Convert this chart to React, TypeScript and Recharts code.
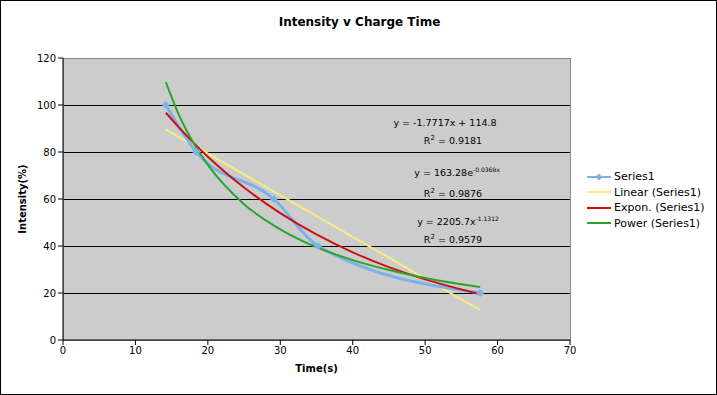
import React from "react";
import {
  ComposedChart,
  Line,
  XAxis,
  YAxis,
  CartesianGrid,
  ReferenceArea,
  Label,
} from "recharts";

// measured points
const times = [14.2, 18.4, 29.1, 35.2, 57.6];
const intensity = [100, 80, 60, 40, 20];

// trendlines, values
const linearX = [14.2, 57.6];
const linearY = [89.6, 12.7];
const curveX = [14.2, 16, 18, 20, 25, 30, 35, 40, 45, 50, 57.6];
const exponY = [96.7, 90.5, 84.0, 78.0, 64.9, 54.0, 44.9, 37.3, 31.0, 25.8, 19.5];
const powerY = [109.7, 95.8, 83.9, 74.5, 57.8, 47.1, 39.5, 34.0, 29.8, 26.4, 22.5];

const xTicks = [0, 10, 20, 30, 40, 50, 60, 70];
const yTicks = [0, 20, 40, 60, 80, 100, 120];

const zip = (xs: number[], ys: number[]) => xs.map((x, i) => ({ x, y: ys[i] }));

const series1 = zip(times, intensity);
const linear = zip(linearX, linearY);
const expon = zip(curveX, exponY);
const power = zip(curveX, powerY);

const BLUE = "#7cb2ea";
const YELLOW = "#f4ee82";
const RED = "#cc1111";
const GREEN = "#2aa52a";
const FONT = "'DejaVu Sans', Verdana, sans-serif";

function Diamond(props: any) {
  const { cx, cy } = props;
  if (cx == null || cy == null) return null;
  const r = 4;
  return (
    <polygon
      points={`${cx},${cy - r} ${cx + r},${cy} ${cx},${cy + r} ${cx - r},${cy}`}
      fill={BLUE}
    />
  );
}

const legendItems = [
  { name: "Series1", color: BLUE, marker: true },
  { name: "Linear (Series1)", color: YELLOW },
  { name: "Expon. (Series1)", color: RED },
  { name: "Power (Series1)", color: GREEN },
];

function LegendBox() {
  return (
    <div
      style={{
        position: "absolute",
        left: 586,
        top: 168,
        fontFamily: FONT,
        fontSize: 11,
        color: "#000",
      }}
    >
      {legendItems.map((it) => (
        <div key={it.name} style={{ display: "flex", alignItems: "center", height: 15.5 }}>
          <svg width={25} height={10}>
            <line x1={0} y1={5} x2={24} y2={5} stroke={it.color} strokeWidth={2} />
            {it.marker && <polygon points="12,1.5 15.5,5 12,8.5 8.5,5" fill={it.color} />}
          </svg>
          <span style={{ marginLeft: 2 }}>{it.name}</span>
        </div>
      ))}
    </div>
  );
}

const eqStyle: React.CSSProperties = {
  position: "absolute",
  width: 200,
  textAlign: "center",
  fontFamily: FONT,
  fontSize: 9.5,
  lineHeight: "12px",
  color: "#000",
};

export default function App() {
  return (
    <div
      style={{
        position: "absolute",
        left: 0,
        top: 0,
        width: 715,
        height: 393,
        border: "1px solid #000",
        background: "#fff",
      }}
    >
      <div
        style={{
          position: "absolute",
          top: 14,
          left: 0,
          width: 717,
          textAlign: "center",
          fontFamily: FONT,
          fontWeight: "bold",
          fontSize: 12,
        }}
      >
        Intensity v Charge Time
      </div>
      <ComposedChart
        width={715}
        height={393}
        margin={{ top: 57, right: 146, bottom: 22, left: 22 }}
      >
        <CartesianGrid
          fill="#cccccc"
          stroke="#000"
          vertical={false}
          horizontalValues={[20, 40, 60, 80, 100]}
          shapeRendering="crispEdges"
        />
        <ReferenceArea
          x1={0}
          x2={70}
          y1={0}
          y2={120}
          fill="none"
          stroke="#888"
          strokeWidth={1}
          ifOverflow="visible"
          shapeRendering="crispEdges"
        />
        <XAxis
          type="number"
          dataKey="x"
          domain={[0, 70]}
          ticks={xTicks}
          allowDataOverflow
          height={32}
          stroke="#000"
          tickSize={5}
          tick={{ fontFamily: FONT, fontSize: 10, fill: "#000" }}
        >
          <Label
            value="Time(s)"
            position="insideBottom"
            offset={0}
            style={{ fontFamily: FONT, fontSize: 10, fontWeight: "bold", fill: "#000" }}
          />
        </XAxis>
        <YAxis
          type="number"
          domain={[0, 120]}
          ticks={yTicks}
          width={40}
          stroke="#000"
          tickSize={5}
          tick={{ fontFamily: FONT, fontSize: 10, fill: "#000" }}
        >
          <Label
            value="Intensity(%)"
            angle={-90}
            position="insideLeft"
            offset={-1}
            style={{
              fontFamily: FONT,
              fontSize: 10,
              fontWeight: "bold",
              fill: "#000",
              textAnchor: "middle",
            }}
          />
        </YAxis>
        <Line
          data={linear}
          dataKey="y"
          type="linear"
          stroke={YELLOW}
          strokeWidth={2}
          dot={false}
          isAnimationActive={false}
        />
        <Line
          data={series1}
          dataKey="y"
          type="monotone"
          stroke={BLUE}
          strokeWidth={3}
          dot={<Diamond />}
          isAnimationActive={false}
        />
        <Line
          data={expon}
          dataKey="y"
          type="monotone"
          stroke={RED}
          strokeWidth={2}
          dot={false}
          isAnimationActive={false}
        />
        <Line
          data={power}
          dataKey="y"
          type="monotone"
          stroke={GREEN}
          strokeWidth={2}
          dot={false}
          isAnimationActive={false}
        />
      </ComposedChart>
      <LegendBox />
      <div style={{ ...eqStyle, left: 344, top: 116 }}>y = -1.7717x + 114.8</div>
      <div style={{ ...eqStyle, left: 352, top: 131 }}>
        R<sup style={{ fontSize: 7 }}>2</sup> = 0.9181
      </div>
      <div style={{ ...eqStyle, left: 356, top: 163 }}>
        y = 163.28e<sup style={{ fontSize: 6 }}>-0.0369x</sup>
      </div>
      <div style={{ ...eqStyle, left: 352, top: 184 }}>
        R<sup style={{ fontSize: 7 }}>2</sup> = 0.9876
      </div>
      <div style={{ ...eqStyle, left: 357, top: 212 }}>
        y = 2205.7x<sup style={{ fontSize: 6 }}>-1.1312</sup>
      </div>
      <div style={{ ...eqStyle, left: 352, top: 230 }}>
        R<sup style={{ fontSize: 7 }}>2</sup> = 0.9579
      </div>
    </div>
  );
}
